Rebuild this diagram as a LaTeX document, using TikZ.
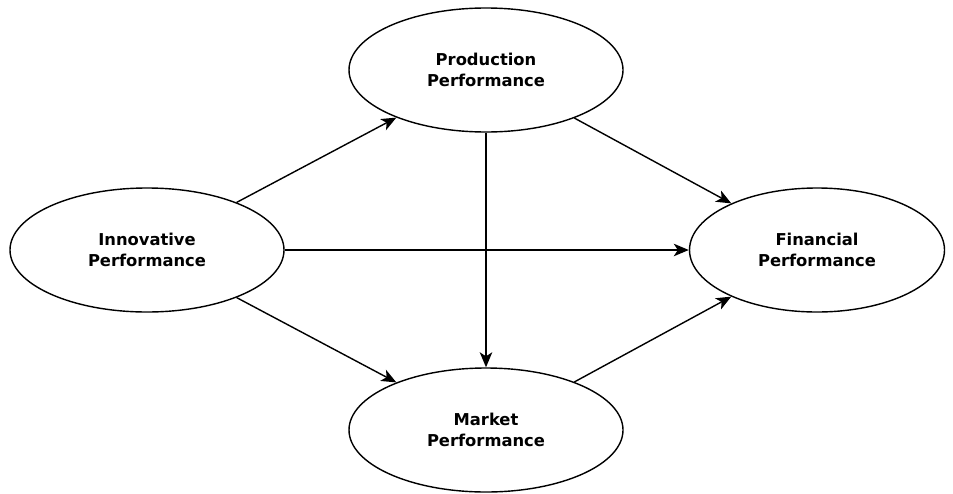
\documentclass[tikz,border=0pt]{standalone}
\usepackage{fontspec}
\setmainfont{DejaVu Sans}
\usetikzlibrary{shapes.geometric,arrows.meta}

\tikzset{
  perf/.style={draw,ellipse,line width=0.8pt,inner sep=0pt,minimum width=5.48cm,minimum height=2.48cm,
    align=center,font=\fontsize{9.3}{11.8}\selectfont\bfseries},
  arr/.style={line width=0.8pt,-{Stealth[length=3mm,width=2.5mm,inset=0.8mm]}}
}

\begin{document}
\begin{tikzpicture}
\useasboundingbox (0,0) rectangle (19.06,9.86);

\node (innov) [perf] at (2.94,4.86) {Innovative\\Performance};
\node (prod) [perf] at (9.72,8.46) {Production\\Performance};
\node (fin) [perf,minimum width=5.1cm] at (16.34,4.86) {Financial\\Performance};
\node (market) [perf] at (9.72,1.26) {Market\\Performance};

\foreach \a/\b in {innov/prod,innov/fin,innov/market,prod/fin,prod/market,market/fin}
    \draw[arr] (\a) -- (\b);
\end{tikzpicture}
\end{document}
